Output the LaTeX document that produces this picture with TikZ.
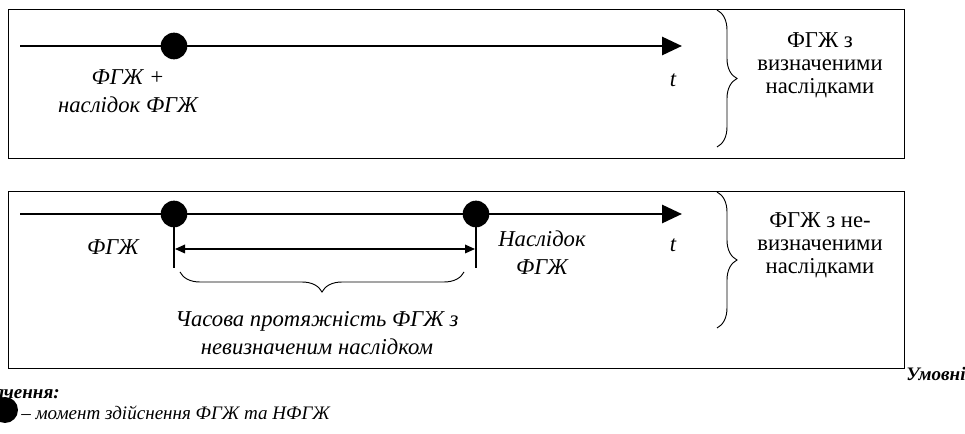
\documentclass[tikz,border=0pt]{standalone}
\usepackage{fontspec}
\setmainfont{Liberation Serif}
\usepackage{tikz}
\usetikzlibrary{arrows.meta, positioning, decorations.pathreplacing}
\tikzset{
  framebox/.style={draw, line width=1pt},
  timeaxis/.style={
    -{Triangle[length=15pt, width=13.5pt]}, line width=2.2pt
  },
  eventdot/.style={
    circle, fill=black, inner sep=0pt, minimum size=20pt
  },
  spanarrow/.style={
    {Triangle[length=7.5pt, width=6.5pt]}-{Triangle[length=7.5pt, width=6.5pt]}, line width=0.9pt
  },
  tickline/.style={line width=0.8pt},
  bracedec/.style={
    decorate, decoration={brace, amplitude=15pt}, line width=0.7pt
  },
  evlabel/.style={
    font=\fontsize{17}{21}\selectfont\itshape, align=center, inner sep=0pt
  },
  kindlabel/.style={
    font=\fontsize{17}{17.4}\selectfont, align=center, inner sep=0pt
  },
  legendlabel/.style={
    font=\fontsize{14.3}{16}\selectfont\itshape, inner sep=0pt
  },
  legendhead/.style={
    font=\fontsize{14.3}{16}\selectfont\bfseries\itshape, inner sep=0pt
  },
}

\begin{document}
\begin{tikzpicture}[x=0.75pt, y=-0.75pt]
  \useasboundingbox (0,0) rectangle (965,434);

  % === Frames ===
  \node[framebox, minimum width=672pt, minimum height=111.75pt, anchor=north west, inner sep=0pt] (topframe) at (8,9) {};
  \node[framebox, minimum width=672pt, minimum height=132.75pt, anchor=north west, inner sep=0pt] (botframe) at (8,191) {};

  % === Upper time axis ===
  \coordinate (axAstart) at (20,46);
  \coordinate (axAend) at (682,46);
  \draw[timeaxis] (axAstart) -- (axAend);
  \node[eventdot] (dotA) at (174,46) {};
  \node[evlabel] (evA) at (128,91) {ФГЖ +\\наслідок ФГЖ};
  \node[evlabel] (tA) at (673,80) {t};

  % === Upper brace + kind ===
  \coordinate (brAtop) at (717,10);
  \coordinate (brAbot) at (717,147);
  \draw[bracedec] (brAtop) -- (brAbot);
  \node[kindlabel] (kindA) at (820,65) {ФГЖ з\\визначеними\\наслідками};

  % === Lower time axis ===
  \coordinate (axBstart) at (20,214);
  \coordinate (axBend) at (682,214);
  \draw[timeaxis] (axBstart) -- (axBend);
  \node[eventdot] (dotB) at (174,214) {};
  \node[eventdot] (dotC) at (476,214) {};
  \coordinate (tickB) at (174,268);
  \coordinate (tickC) at (476,268);
  \draw[tickline] (dotB.center) -- (tickB);
  \draw[tickline] (dotC.center) -- (tickC);
  \coordinate (spanL) at (175,249);
  \coordinate (spanR) at (475,249);
  \draw[spanarrow] (spanL) -- (spanR);
  \node[evlabel] (evB) at (113,247) {ФГЖ};
  \node[evlabel] (evC) at (542,253) {Наслідок\\ФГЖ};
  \node[evlabel] (tB) at (673,245) {t};

  % === Duration brace ===
  \coordinate (brSpanR) at (464,272);
  \coordinate (brSpanL) at (180,272);
  \draw[bracedec] (brSpanR) -- (brSpanL);
  \node[evlabel] (spanlbl) at (317,333) {Часова протяжність ФГЖ з\\невизначеним наслідком};

  % === Lower brace + kind ===
  \coordinate (brBtop) at (717,192);
  \coordinate (brBbot) at (717,328);
  \draw[bracedec] (brBtop) -- (brBbot);
  \node[kindlabel] (kindB) at (820,245) {ФГЖ з не-\\визначеними\\наслідками};

  % === Legend ===
  \node[legendhead, anchor=west] (leghead) at (906,374) {Умовні};
  \node[legendhead, anchor=east] (leghead2) at (60,394) {позначення:};
  \node[eventdot, minimum size=19.5pt] (legdot) at (5,410) {};
  \node[legendlabel, anchor=west] (legtext) at (21,413) {– момент здійснення ФГЖ та НФГЖ};
\end{tikzpicture}
\end{document}
